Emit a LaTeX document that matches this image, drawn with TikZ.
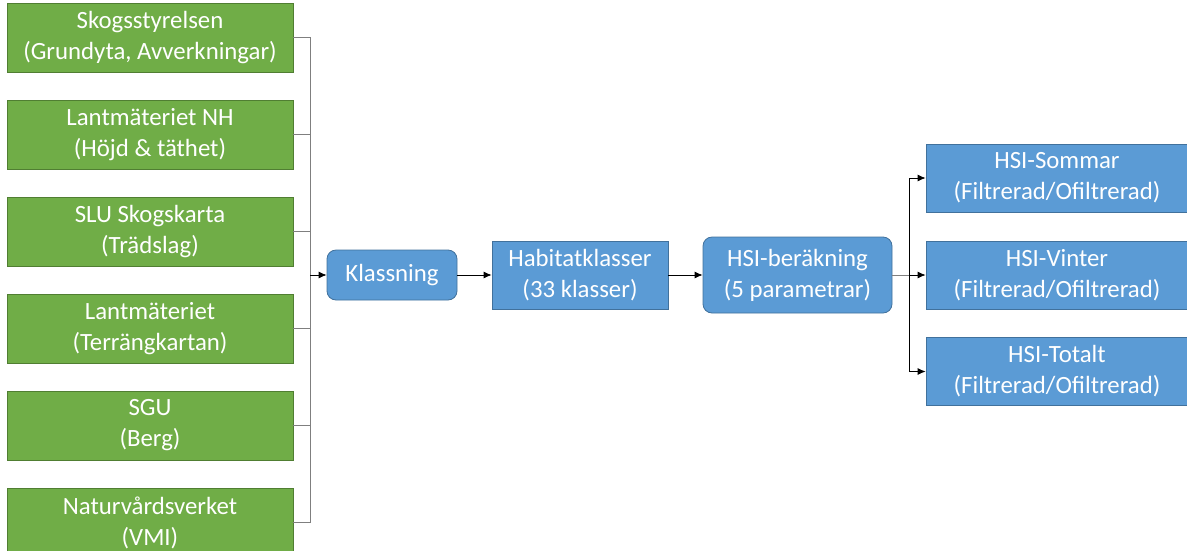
\documentclass[tikz,border=0pt]{standalone}
\usepackage{fontspec}
\setmainfont{Carlito}
\usetikzlibrary{arrows.meta}
\definecolor{gfill}{HTML}{70AD47}
\definecolor{gline}{HTML}{507E32}
\definecolor{bfill}{HTML}{5B9BD5}
\definecolor{bline}{HTML}{41719C}
\definecolor{conn}{HTML}{7F7F7F}
\tikzset{
  every node/.style={font=\fontsize{24.8}{31}\selectfont, text=white, align=center, inner sep=0pt},
  src/.style={draw=gline, fill=gfill, line width=0.8pt, minimum width=286pt, minimum height=69pt},
  proc/.style={draw=bline, fill=bfill, line width=0.8pt},
  rproc/.style={proc, rounded corners=9pt},
  outbox/.style={proc, minimum width=262pt, minimum height=68pt},
  link/.style={draw=conn, line width=0.8pt},
  arr/.style={draw=black, line width=0.8pt, -{Latex[length=8pt,width=7pt]}}
}
\begin{document}
\begin{tikzpicture}[x=1pt,y=1pt]
\useasboundingbox (0,0) rectangle (1187,-550);
\begin{scope}
\clip (0,0) rectangle (1187,-550);
\node[src] (g1) at (150,-37.5) {Skogsstyrelsen\\(Grundyta, Avverkningar)};
\node[src] (g2) at (150,-134.5) {Lantmäteriet NH\\(Höjd \& täthet)};
\node[src] (g3) at (150,-231.5) {SLU Skogskarta\\(Trädslag)};
\node[src] (g4) at (150,-328.5) {Lantmäteriet\\(Terrängkartan)};
\node[src] (g5) at (150,-425.5) {SGU\\(Berg)};
\node[src] (g6) at (150,-522.5) {Naturvårdsverket\\(VMI)};
\node[rproc, minimum width=130pt, minimum height=50pt] (kl) at (392,-275) {Klassning};
\node[proc, minimum width=176pt, minimum height=68pt] (hab) at (580,-275) {Habitatklasser\\(33 klasser)};
\node[rproc, minimum width=189pt, minimum height=76pt] (hsi) at (797.5,-275) {HSI-beräkning\\(5 parametrar)};
\node[outbox] (o1) at (1057,-178) {HSI-Sommar\\(Filtrerad/Ofiltrerad)};
\node[outbox] (o2) at (1057,-275) {HSI-Vinter\\(Filtrerad/Ofiltrerad)};
\node[outbox] (o3) at (1057,-371.5) {HSI-Totalt\\(Filtrerad/Ofiltrerad)};
\coordinate (bus) at (310,-275);
\coordinate (split) at (909,-275);
\foreach \g in {g1,g2,g3,g4,g5,g6} {\draw[link] (\g.east) -| (bus);}
\draw[arr] (bus) -- (kl.west);
\draw[arr] (kl.east) -- (hab.west);
\draw[arr] (hab.east) -- (hsi.west);
\draw[link] (hsi.east) -- (split);
\draw[arr] (split) |- (o1.west);
\draw[arr] (split) -- (o2.west);
\draw[arr] (split) |- (o3.west);
\end{scope}
\end{tikzpicture}
\end{document}
